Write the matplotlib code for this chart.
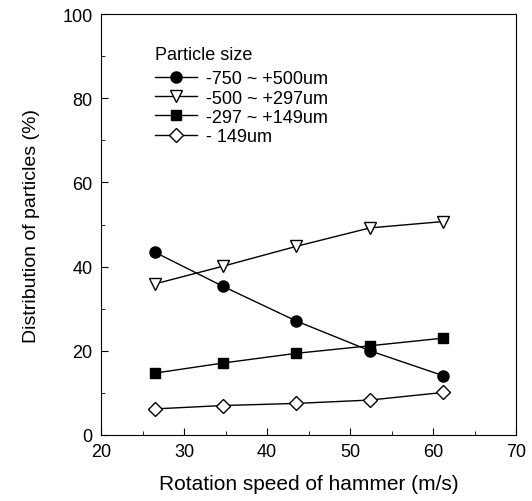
import matplotlib
matplotlib.use("Agg")
import matplotlib.pyplot as plt
from matplotlib.ticker import MultipleLocator

plt.rcParams["font.family"] = ["Liberation Sans", "DejaVu Sans"]

speed = [26.5, 34.7, 43.5, 52.4, 61.2]
size_750_500 = [43.4, 35.3, 27.1, 20.0, 14.1]
size_500_297 = [35.9, 40.1, 44.8, 49.2, 50.7]
size_297_149 = [14.7, 17.1, 19.4, 21.2, 23.0]
size_149 = [6.2, 7.0, 7.5, 8.3, 10.1]
labels = ["-750 ~ +500um", "-500 ~ +297um", "-297 ~ +149um", "- 149um"]

fig = plt.figure(figsize=(5.32, 5.02), dpi=100)
ax = fig.add_axes([0.19, 0.1315, 0.78, 0.8385])

series = [
    (size_750_500, "o", "black", 8),
    (size_500_297, "v", "white", 9),
    (size_297_149, "s", "black", 7.5),
    (size_149, "D", "white", 7.5),
]
for vals, marker, face, ms in series:
    ax.plot(speed, vals, color="black", linewidth=1.0, marker=marker,
            markerfacecolor=face, markeredgecolor="black", markersize=ms,
            markeredgewidth=1.0)

ax.set_xlim(20, 70)
ax.set_ylim(0, 100)
ax.xaxis.set_major_locator(MultipleLocator(10))
ax.xaxis.set_minor_locator(MultipleLocator(5))
ax.yaxis.set_major_locator(MultipleLocator(20))
ax.yaxis.set_minor_locator(MultipleLocator(10))
ax.tick_params(which="both", direction="in", top=False, right=False)
ax.tick_params(which="major", length=5, labelsize=13, pad=6)
ax.tick_params(which="minor", length=3)

ax.set_xlabel("Rotation speed of hammer (m/s)", fontsize=15, labelpad=10)
ax.set_ylabel("Distribution of particles (%)", fontsize=14, labelpad=16)

leg = ax.legend(labels, title="Particle size", loc="upper left",
                bbox_to_anchor=(0.13, 0.923), frameon=False, fontsize=13,
                title_fontsize=13, handlelength=2.3, handletextpad=0.55,
                labelspacing=0.12, borderpad=0, borderaxespad=0)
leg._legend_box.align = "left"
leg._legend_box.sep = 5  # extra gap below the title

fig.savefig("out.png", dpi=100)
